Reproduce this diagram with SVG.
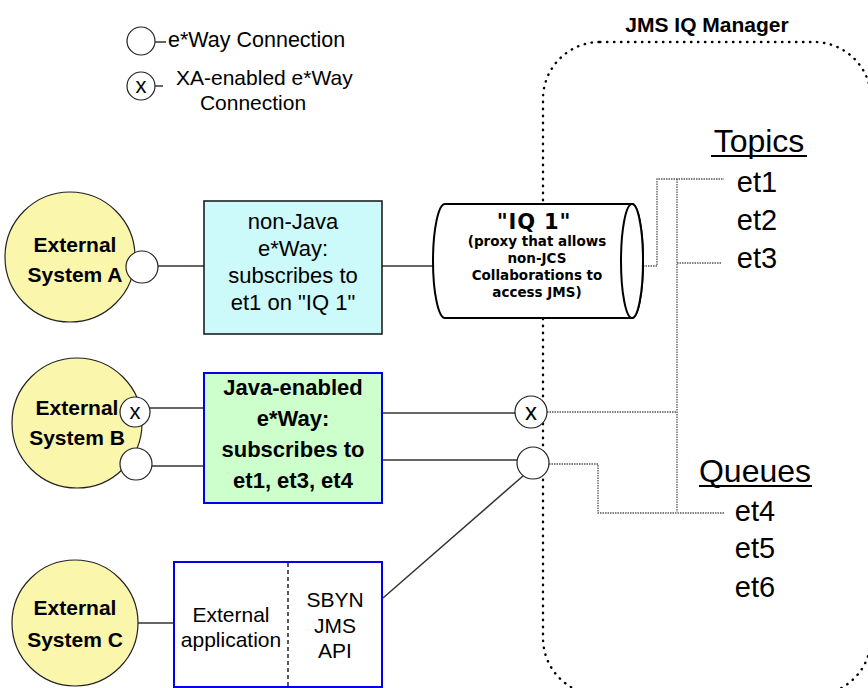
<svg xmlns="http://www.w3.org/2000/svg" width="868" height="688" viewBox="0 0 868 688">
<style>
.t{font-family:"Liberation Sans",Arial,sans-serif;fill:#000}
.b{font-weight:bold}
.v{font-family:"DejaVu Sans",Verdana,sans-serif;font-weight:bold;fill:#000}
.ext{fill:#FAF6AC;stroke:#222;stroke-width:1.2}
.port{fill:#fff;stroke:#222;stroke-width:1.2}
.solid{stroke:#333;stroke-width:1.5;fill:none}
.dot{stroke:#555;stroke-width:1.3;stroke-dasharray:1.5 1;fill:none}
</style>
<rect width="868" height="688" fill="#fff"/>

<g id="jms-manager">
  <rect x="543" y="42" width="328" height="653" rx="57" ry="57" fill="none" stroke="#000" stroke-width="2.4" stroke-dasharray="0.4 6.6" stroke-linecap="round"/>
  <text class="t b" x="707" y="32" font-size="21" text-anchor="middle">JMS IQ Manager</text>
</g>

<g id="legend">
  <circle class="port" cx="141" cy="41" r="14"/>
  <line class="solid" x1="155" y1="42" x2="166" y2="42"/>
  <text class="t" x="168" y="47" font-size="21.5">e*Way Connection</text>
  <circle class="port" cx="141" cy="86" r="14"/>
  <text class="t" x="141" y="93" font-size="22" text-anchor="middle">x</text>
  <line class="solid" x1="155" y1="86" x2="163" y2="86"/>
  <text class="t" x="176" y="85" font-size="21">XA-enabled e*Way</text>
  <text class="t" x="253" y="110" font-size="21" text-anchor="middle">Connection</text>
</g>

<g id="connectors">
  <line class="solid" x1="158" y1="266" x2="205" y2="266"/>
  <line class="solid" x1="382" y1="266" x2="434" y2="266"/>
  <line class="solid" x1="150" y1="408" x2="204" y2="408"/>
  <line class="solid" x1="152" y1="466" x2="204" y2="466"/>
  <line class="solid" x1="382" y1="413" x2="515" y2="413"/>
  <line class="solid" x1="382" y1="460" x2="518" y2="460"/>
  <line class="solid" x1="138" y1="623" x2="174" y2="623"/>
  <line class="solid" x1="383" y1="598" x2="523" y2="476"/>
  <polyline class="dot" points="633,266 657,266 657,179 724,179"/>
  <line class="dot" x1="677" y1="179" x2="677" y2="512"/>
  <line class="dot" x1="677" y1="263" x2="721" y2="263"/>
  <line class="dot" x1="547" y1="412" x2="677" y2="412"/>
  <polyline class="dot" points="549,464 598,464 598,513 724,513"/>
</g>

<g id="external-system-a">
  <circle class="ext" cx="70" cy="257" r="65"/>
  <text class="t b" x="75" y="252" font-size="21" text-anchor="middle">External</text>
  <text class="t b" x="75" y="282" font-size="21" text-anchor="middle">System A</text>
  <circle class="port" cx="142" cy="267" r="16"/>
</g>

<g id="external-system-b">
  <circle class="ext" cx="77" cy="423" r="65"/>
  <text class="t b" x="77" y="415" font-size="21" text-anchor="middle">External</text>
  <text class="t b" x="77" y="445" font-size="21" text-anchor="middle">System B</text>
  <circle class="port" cx="135" cy="412" r="15"/>
  <text class="t" x="135" y="419" font-size="22" text-anchor="middle">x</text>
  <circle class="port" cx="136" cy="464" r="16"/>
</g>

<g id="external-system-c">
  <circle class="ext" cx="75" cy="623" r="63"/>
  <text class="t b" x="75" y="615" font-size="21" text-anchor="middle">External</text>
  <text class="t b" x="75" y="647" font-size="21" text-anchor="middle">System C</text>
</g>

<g id="non-java-eway">
  <rect x="204" y="201" width="178" height="133" fill="#CCFAFA" stroke="#111" stroke-width="1.5"/>
  <text class="t" x="293" y="229" font-size="22" text-anchor="middle">non-Java</text>
  <text class="t" x="293" y="256" font-size="22" text-anchor="middle">e*Way:</text>
  <text class="t" x="293" y="283" font-size="22" text-anchor="middle">subscribes to</text>
  <text class="t" x="293" y="310" font-size="22" text-anchor="middle">et1 on "IQ 1"</text>
</g>

<g id="java-eway">
  <rect x="204" y="373" width="178" height="130" fill="#CCFFCC" stroke="#0000EE" stroke-width="2"/>
  <text class="t b" x="293" y="395" font-size="22" text-anchor="middle">Java-enabled</text>
  <text class="t b" x="293" y="426" font-size="22" text-anchor="middle">e*Way:</text>
  <text class="t b" x="293" y="457" font-size="22" text-anchor="middle">subscribes to</text>
  <text class="t b" x="293" y="488" font-size="22" text-anchor="middle">et1, et3, et4</text>
</g>

<g id="external-application">
  <rect x="174" y="562" width="208" height="125" fill="#fff" stroke="#0000EE" stroke-width="2"/>
  <line x1="288" y1="563" x2="288" y2="686" stroke="#000" stroke-width="1.3" stroke-dasharray="4 3"/>
  <text class="t" x="231" y="622" font-size="21" text-anchor="middle">External</text>
  <text class="t" x="231" y="647" font-size="21" text-anchor="middle">application</text>
  <text class="t" x="335" y="607" font-size="21" text-anchor="middle">SBYN</text>
  <text class="t" x="335" y="633" font-size="21" text-anchor="middle">JMS</text>
  <text class="t" x="335" y="658" font-size="21" text-anchor="middle">API</text>
</g>

<g id="iq1">
  <path d="M445,204 L632,204 A11,57 0 0 1 632,318 L445,318 A12,57 0 0 1 445,204 Z" fill="#fff" stroke="#000" stroke-width="2"/>
  <ellipse cx="632" cy="261" rx="11" ry="57" fill="#fff" stroke="#000" stroke-width="2"/>
  <text class="v" x="534" y="229" font-size="21" letter-spacing="0.8" text-anchor="middle">"IQ 1"</text>
  <text class="v" x="537" y="246" font-size="13.5" text-anchor="middle">(proxy that allows</text>
  <text class="v" x="537" y="263" font-size="13.5" text-anchor="middle">non-JCS</text>
  <text class="v" x="537" y="280" font-size="13.5" text-anchor="middle">Collaborations to</text>
  <text class="v" x="537" y="297" font-size="13.5" text-anchor="middle">access JMS)</text>
</g>

<g id="xa-connection">
  <circle class="port" cx="531" cy="412" r="16"/>
  <text class="t" x="531" y="420" font-size="24" text-anchor="middle">x</text>
</g>

<g id="jms-connection">
  <circle class="port" cx="533" cy="463" r="16"/>
</g>

<g id="topics">
  <text class="t" x="759" y="152" font-size="32" text-anchor="middle">Topics</text>
  <line x1="711" y1="156" x2="807" y2="156" stroke="#000" stroke-width="2"/>
  <text class="t" x="757" y="192" font-size="29" text-anchor="middle">et1</text>
  <text class="t" x="757" y="230" font-size="29" text-anchor="middle">et2</text>
  <text class="t" x="757" y="268" font-size="29" text-anchor="middle">et3</text>
</g>

<g id="queues">
  <text class="t" x="755" y="482" font-size="32" text-anchor="middle">Queues</text>
  <line x1="699" y1="486" x2="812" y2="486" stroke="#000" stroke-width="2"/>
  <text class="t" x="755" y="521" font-size="29" text-anchor="middle">et4</text>
  <text class="t" x="755" y="558" font-size="29" text-anchor="middle">et5</text>
  <text class="t" x="755" y="597" font-size="29" text-anchor="middle">et6</text>
</g>
</svg>
